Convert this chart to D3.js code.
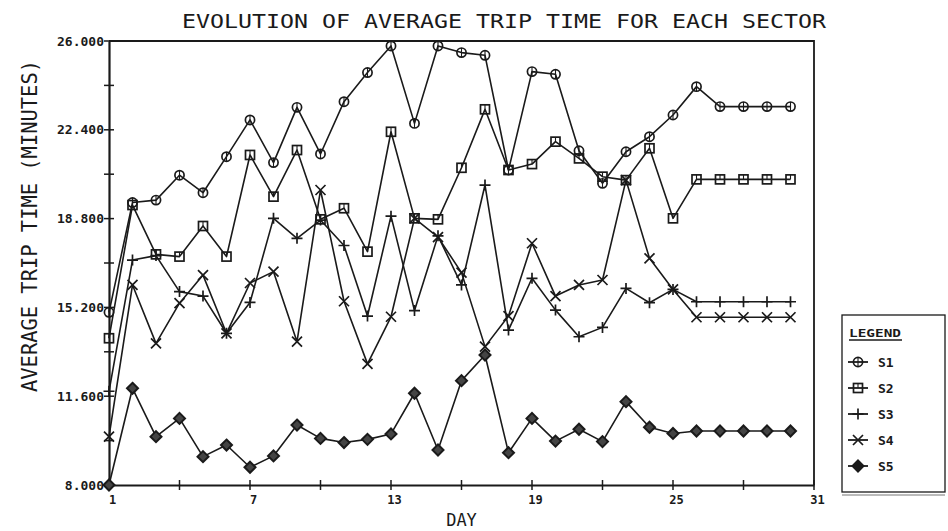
<!DOCTYPE html>
<html>
<head>
<meta charset="utf-8">
<script src="https://cdn.jsdelivr.net/npm/d3@7/dist/d3.min.js"></script>
<style>
  html, body { margin: 0; padding: 0; background: #fff; }
  svg { display: block; }
  text { font-family: "DejaVu Sans Mono", "Liberation Mono", monospace; fill: #1a1a1a; }
</style>
</head>
<body>
<svg id="chart" width="948" height="531"></svg>
<script>
// Day of the month for each observation
const days = [1, 2, 3, 4, 5, 6, 7, 8, 9, 10, 11, 12, 13, 14, 15,
              16, 17, 18, 19, 20, 21, 22, 23, 24, 25, 26, 27, 28, 29, 30];

// Average trip time (minutes) per sector
const s1 = [15.0, 19.45, 19.55, 20.56, 19.85, 21.31, 22.80, 21.07, 23.31, 21.42,
            23.54, 24.72, 25.80, 22.66, 25.80, 25.53, 25.42, 20.77, 24.76, 24.65,
            21.55, 20.23, 21.51, 22.12, 23.00, 24.15, 23.34, 23.34, 23.34, 23.34];
const s2 = [13.95, 19.35, 17.35, 17.26, 18.50, 17.26, 21.38, 19.69, 21.58, 18.77,
            19.22, 17.46, 22.32, 18.81, 18.77, 20.86, 23.23, 20.77, 21.01, 21.92,
            21.24, 20.50, 20.36, 21.65, 18.81, 20.39, 20.39, 20.39, 20.39, 20.39];
const s3 = [11.8, 17.12, 17.30, 15.84, 15.66, 14.15, 15.40, 18.81, 18.00, 18.74,
            17.71, 14.85, 18.90, 15.07, 18.10, 16.11, 20.16, 14.28, 16.38, 15.09,
            14.01, 14.39, 15.97, 15.39, 15.93, 15.43, 15.43, 15.43, 15.43, 15.43];
const s4 = [9.96, 16.11, 13.74, 15.37, 16.51, 14.15, 16.19, 16.65, 13.81, 19.96,
            15.45, 12.91, 14.82, 18.81, 18.05, 16.61, 13.61, 14.85, 17.80, 15.66,
            16.11, 16.31, 20.36, 17.19, 15.93, 14.80, 14.80, 14.80, 14.80, 14.80];
const s5 = [8.0, 11.92, 9.96, 10.70, 9.15, 9.62, 8.72, 9.18, 10.43, 9.89,
            9.72, 9.85, 10.07, 11.72, 9.42, 12.23, 13.27, 9.31, 10.70, 9.78,
            10.26, 9.76, 11.38, 10.34, 10.09, 10.19, 10.19, 10.19, 10.19, 10.19];

const seriesNames = ["S1", "S2", "S3", "S4", "S5"];
const seriesMarkers = ["circle", "square", "plus", "cross", "diamond"];

// Axis tick values and labels
const yLabelTicks = [8.0, 11.6, 15.2, 18.8, 22.4, 26.0];
const yMinorTicks = [9.8, 13.4, 17.0, 20.6, 24.2];
const xTicks = [1, 4, 7, 10, 13, 16, 19, 22, 25, 28, 31];
const xLabelTicks = [1, 7, 13, 19, 25, 31];

const titleText = "EVOLUTION OF AVERAGE TRIP TIME FOR EACH SECTOR";
const yTitle = "AVERAGE TRIP TIME (MINUTES)";
const xTitle = "DAY";
const legendTitle = "LEGEND";

const series = [s1, s2, s3, s4, s5].map((vals, i) => ({
  name: seriesNames[i],
  marker: seriesMarkers[i],
  points: days.map((d, j) => ({ day: d, value: vals[j] }))
}));

const ink = "#1a1a1a";
const svg = d3.select("#chart");

const x = d3.scaleLinear().domain([1, 31]).range([109, 814]);
const y = d3.scaleLinear().domain([8, 26]).range([485, 41]);

// Frame: top and right border
svg.append("path")
  .attr("d", `M${x(1)},${y(26)} H${x(31)} V${y(8)}`)
  .attr("fill", "none").attr("stroke", ink).attr("stroke-width", 1.8);

// Y axis
const yAxis = d3.axisLeft(y)
  .tickValues(yLabelTicks)
  .tickFormat(d3.format(".3f"))
  .tickSize(0).tickPadding(5);
const gy = svg.append("g").attr("transform", `translate(${x(1)},0)`).call(yAxis);
gy.select(".domain").attr("stroke", ink).attr("stroke-width", 2.2);
gy.selectAll("text")
  .attr("font-size", 13).attr("font-weight", "bold")
  .style("font-family", "'DejaVu Sans Mono', monospace").attr("fill", ink);
// tick marks crossing the y axis
gy.selectAll("line.tk")
  .data(yLabelTicks.concat(yMinorTicks))
  .join("line").attr("class", "tk")
  .attr("x1", -5).attr("x2", 5)
  .attr("y1", d => y(d)).attr("y2", d => y(d))
  .attr("stroke", ink).attr("stroke-width", 1.5);

// X axis
const xAxis = d3.axisBottom(x)
  .tickValues(xLabelTicks)
  .tickFormat(d3.format("d"))
  .tickSize(0).tickPadding(10);
const gx = svg.append("g").attr("transform", `translate(0,${y(8)})`).call(xAxis);
gx.select(".domain").attr("stroke", ink).attr("stroke-width", 2.2);
gx.selectAll("text")
  .attr("font-size", 12).attr("font-weight", "bold")
  .attr("dx", 3)
  .style("font-family", "'DejaVu Sans Mono', monospace").attr("fill", ink);
gx.selectAll("line.tk")
  .data(xTicks)
  .join("line").attr("class", "tk")
  .attr("x1", d => x(d)).attr("x2", d => x(d))
  .attr("y1", -5).attr("y2", 5)
  .attr("stroke", ink).attr("stroke-width", 1.5);

// Titles
svg.append("text")
  .attr("x", 504).attr("y", 28)
  .attr("text-anchor", "middle")
  .attr("font-size", 20)
  .attr("textLength", 644).attr("lengthAdjust", "spacingAndGlyphs")
  .text(titleText);

svg.append("text")
  .attr("transform", `translate(37,226) rotate(-90)`)
  .attr("text-anchor", "middle")
  .attr("font-size", 21)
  .attr("textLength", 332).attr("lengthAdjust", "spacingAndGlyphs")
  .text(yTitle);

svg.append("text")
  .attr("x", (x(1) + x(31)) / 2).attr("y", 526)
  .attr("text-anchor", "middle")
  .attr("font-size", 17)
  .text(xTitle);

// Marker shapes
function drawMarker(g, type, cx, cy, legend) {
  const s = ink;
  if (type === "circle") {
    g.append("circle").attr("cx", cx).attr("cy", cy).attr("r", 4.6)
      .attr("fill", "none").attr("stroke", s).attr("stroke-width", 1.7);
    g.append("line").attr("x1", cx).attr("x2", cx).attr("y1", cy - 4.6).attr("y2", cy + 4.6)
      .attr("stroke", s).attr("stroke-width", 1.1);
  } else if (type === "square") {
    g.append("rect").attr("x", cx - 4.5).attr("y", cy - 4.5).attr("width", 9).attr("height", 9)
      .attr("fill", "none").attr("stroke", s).attr("stroke-width", 1.7);
    g.append("line").attr("x1", cx).attr("x2", cx).attr("y1", cy - 4.5).attr("y2", cy)
      .attr("stroke", s).attr("stroke-width", 1.1);
  } else if (type === "plus") {
    g.append("path").attr("d", `M${cx - 5.5},${cy}H${cx + 5.5}M${cx},${cy - 5.5}V${cy + 5.5}`)
      .attr("stroke", s).attr("stroke-width", 1.7).attr("fill", "none");
  } else if (type === "cross") {
    g.append("path").attr("d", `M${cx - 5},${cy - 5}L${cx + 5},${cy + 5}M${cx - 5},${cy + 5}L${cx + 5},${cy - 5}`)
      .attr("stroke", s).attr("stroke-width", 1.7).attr("fill", "none");
  } else if (type === "diamond") {
    g.append("path").attr("d", `M${cx},${cy - 5.5}L${cx + 5.5},${cy}L${cx},${cy + 5.5}L${cx - 5.5},${cy}Z`)
      .attr("stroke", s).attr("stroke-width", 2).attr("fill", legend ? s : "#444");
  }
}

// Series lines and markers
const line = d3.line().x(d => x(d.day)).y(d => y(d.value));
const plot = svg.append("g");
series.forEach(sr => {
  plot.append("path").datum(sr.points)
    .attr("d", line)
    .attr("fill", "none").attr("stroke", ink).attr("stroke-width", 1.6)
    .attr("stroke-linejoin", "round");
});
series.forEach(sr => {
  const g = plot.append("g");
  sr.points.forEach(p => drawMarker(g, sr.marker, x(p.day), y(p.value), false));
});

// Legend
const lg = svg.append("g");
lg.append("rect").attr("x", 842).attr("y", 315).attr("width", 103).attr("height", 177)
  .attr("fill", "#fff").attr("stroke", ink).attr("stroke-width", 1.3);
lg.append("line").attr("x1", 842).attr("x2", 945).attr("y1", 495).attr("y2", 495)
  .attr("stroke", "#777").attr("stroke-width", 1);
lg.append("text").attr("x", 849).attr("y", 337)
  .attr("font-size", 11).attr("font-weight", "bold")
  .attr("textLength", 52).attr("lengthAdjust", "spacingAndGlyphs")
  .text(legendTitle);
lg.append("line").attr("x1", 849).attr("x2", 902).attr("y1", 340).attr("y2", 340)
  .attr("stroke", ink).attr("stroke-width", 1.3);
series.forEach((sr, i) => {
  const ly = 362 + i * 26;
  lg.append("line").attr("x1", 848).attr("x2", 868).attr("y1", ly).attr("y2", ly)
    .attr("stroke", ink).attr("stroke-width", 1.8);
  drawMarker(lg, sr.marker, 858, ly, true);
  lg.append("text").attr("x", 878).attr("y", ly + 4.5)
    .attr("font-size", 13).attr("font-weight", "bold")
    .text(sr.name);
});
</script>
</body>
</html>
